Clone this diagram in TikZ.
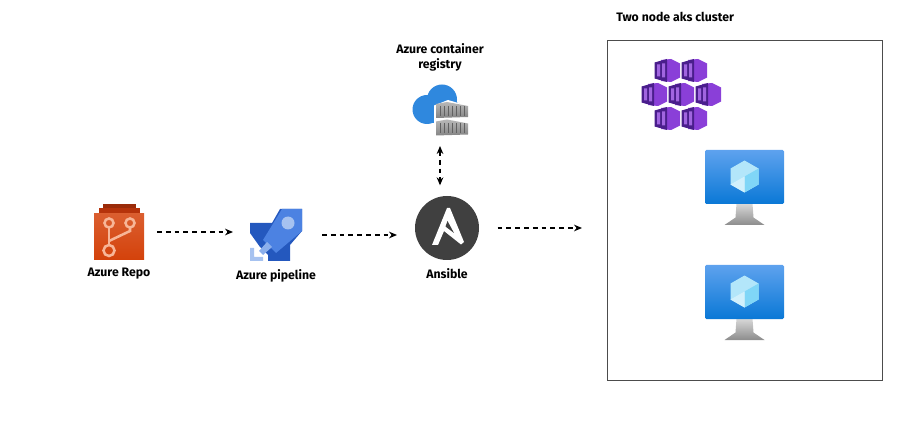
\documentclass[tikz,border=0pt]{standalone}
\usepackage{fontspec}
\setmainfont{Fira Sans}
\usetikzlibrary{positioning, arrows.meta}

\definecolor{repored}{HTML}{D4420B}
\definecolor{repodark}{HTML}{B5330B}
\definecolor{repoline}{HTML}{F7B698}
\definecolor{pipeblue}{HTML}{2458BE}
\definecolor{pipelight}{HTML}{4C82E2}
\definecolor{pipepale}{HTML}{A6C2F0}
\definecolor{cloudblue}{HTML}{2F88DE}
\definecolor{podpurple}{HTML}{8A3FD8}
\definecolor{poddark}{HTML}{4A1E8C}
\definecolor{vmtop}{HTML}{5EA2EE}
\definecolor{vmbottom}{HTML}{0A78D6}

\tikzset{
  icon/.style={inner sep=0pt, outer sep=0pt},
  label/.style={inner sep=0pt, font=\fontsize{9.2pt}{11.25pt}\selectfont\bfseries, align=center},
  flow/.style={dash pattern=on 3.6pt off 3pt, line width=.85pt},
  repoicon/.pic={
    \fill[repodark!85!black] (-16,-27.5) rectangle (17,-23);
    \fill[repodark] (-20,-23.5) rectangle (21,-18);
    \shade[top color=repored!85!white, bottom color=repored] (-25,-18.5) rectangle (25,27.5);
    \draw[repoline, line width=1.9pt] (-10,-4.5) -- (-10,12.5);
    \draw[repoline, line width=1.9pt] (11,-4.5) -- (11,-1) -- (-10,9);
    \draw[repoline, line width=1.9pt] (-10,-9) circle (4.5) (11,-9) circle (4.5) (-10,18.5) circle (5.5);
  },
  pipeicon/.pic={
    \fill[pipeblue] (4,-26) -- (26,-26) -- (26,-4) -- (14,10) -- (14,26) -- (-8,26) -- (-8,20)
      -- (-16,12) -- (-26,-2) -- (-26,-12) -- (-4,-12) -- cycle;
    \fill[pipelight] (6,-26) -- (26,-26) -- (26,-4) -- (0,18) -- (-13,5) -- cycle;
    \fill[pipepale] (12,-12) circle (6.5);
    \fill[pipepale!70!pipelight] (-9,7) -- (-4,12) -- (-13,20) -- (-17,16) -- cycle;
    \fill[pipepale] (-26,13) rectangle (-22,26) (-26,22) rectangle (-13,26);
  },
  ansibleicon/.pic={
    \fill[white] (0,-20) -- (3,-20) -- (17,14) -- (14,16.5) -- (-3,3) -- (-9,17) -- (-15,17) -- cycle;
    \fill[black!75] (0.5,-7) -- (-1.5,-1.5) -- (7,5) -- cycle;
  },
  acricon/.pic={
    \fill[cloudblue] (-13,0) circle (14.5) (2,-10) circle (15) (14,3) circle (10.5);
    \fill[cloudblue] (-13,-6) rectangle (14,13.5);
    \fill[white] (-6,-4) -- (8,-9.5) -- (30,-3) -- (30,25) -- (-6,26) -- cycle;
    \foreach \y in {-6.5,11} {
      \shade[top color=black!28, bottom color=black!48] (-4,\y+1) -- (-4,\y+15) -- (28,\y+14) -- (28,\y+3) -- (7,\y-1) -- cycle;
      \foreach \x in {0,4,8,12,16,20,24} {
        \draw[black!62, line width=.7pt] (\x,\y+3) -- (\x,\y+13);
      }
    }
  },
  podicon/.pic={
    \fill[podpurple] (-6,-10.5) -- (4,-11.5) -- (13,-7) -- (13,7) -- (4,11.5) -- (-6,10.5) -- cycle;
    \fill[poddark] (-12.5,-8) -- (0,-11.5) -- (0,11.5) -- (-12.5,8) -- cycle;
    \fill[podpurple!80!white] (-10,-6) rectangle (-7,6) (-5,-7) rectangle (-2,7);
  },
  vmicon/.pic={
    \shade[top color=black!15, bottom color=black!45] (-8,16) -- (8,16) -- (9,30) -- (20,37.5) -- (-20,37.5) -- (-9,30) -- cycle;
    \shade[top color=vmtop, bottom color=vmbottom, rounded corners=1pt] (-39.5,-37.5) rectangle (39.5,16.5);
    \fill[cyan!30!white] (0,-27) -- (14,-19) -- (14,-3) -- (0,5) -- (-14,-3) -- (-14,-19) -- cycle;
    \fill[cyan!50!white] (0,-11) -- (14,-19) -- (14,-3) -- (0,5) -- cycle;
    \fill[cyan!18!white] (-14,-3) -- (0,-11) -- (0,5) -- cycle;
  },
}

\begin{document}
\begin{tikzpicture}[x=.75pt, y=-.75pt, >={Stealth[length=6pt, width=5pt]}]
  \useasboundingbox (0,0) rectangle (919,427);

  \node[icon, minimum width=37.5pt, minimum height=41.25pt] (repo) at (119,232) {};
  \node[icon, minimum width=39pt, minimum height=39pt] (pipeline) at (276,235) {};
  \node[icon, circle, fill=black!75, minimum size=48pt] (ansible) at (447,228) {};
  \node[icon, minimum width=42pt, minimum height=36.75pt] (registry) at (440,109.5) {};
  \node[icon, draw=black!70, line width=.7pt, minimum width=206.25pt, minimum height=255pt] (cluster) at (744.5,210) {};
  \node[icon, minimum width=60pt, minimum height=53pt] (pods) at (681,94.5) {};
  \node[icon, minimum width=59.25pt, minimum height=56.25pt] (vmone) at (744.5,187.5) {};
  \node[icon, minimum width=59.25pt, minimum height=56.25pt] (vmtwo) [below=30pt of vmone] {};

  \pic at (repo) {repoicon};
  \pic at (pipeline) {pipeicon};
  \pic at (ansible) {ansibleicon};
  \pic at (registry) {acricon};
  \foreach \px/\py in {-14/-24, 13/-24, -27/0, 0/0, 27/0, -14/24, 13/24} {
    \pic at ([xshift=\px*.75pt, yshift=-\py*.75pt]pods) {podicon};
  }
  \pic at (vmone) {vmicon};
  \pic at (vmtwo) {vmicon};

  \node[label] (repolabel) [below=6.4pt of repo] {Azure Repo};
  \node[label] (pipelinelabel) [below=6.2pt of pipeline] {Azure pipeline};
  \node[label] (ansiblelabel) [below=6.4pt of ansible] {Ansible};
  \node[label] (registrylabel) [above=10pt of registry] {Azure container\\registry};
  \node[label, anchor=west] (clusterlabel) at (616,17) {Two node aks cluster};

  \path[->, flow]
    (repo.east) edge [shorten <=9.75pt, shorten >=12.75pt] (repo.east -| pipeline.west)
    (pipeline.east) edge [shorten <=15pt, shorten >=13.5pt] (pipeline.east -| ansible.west)
    (ansible.east) edge [shorten <=14pt, shorten >=18.75pt] (ansible.east -| cluster.west);
  \path[<->, flow]
    (registry.south) edge [shorten <=9pt, shorten >=8pt] (registry.south |- ansible.north);
\end{tikzpicture}
\end{document}
